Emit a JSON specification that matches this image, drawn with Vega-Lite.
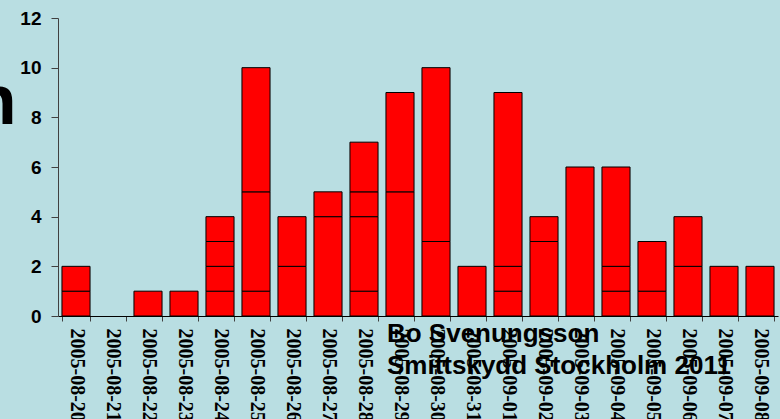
{
  "$schema": "https://vega.github.io/schema/vega-lite/v6.json",
  "autosize": {"type": "none"},
  "width": 720,
  "height": 298,
  "padding": {"left": 58, "top": 18, "right": 2, "bottom": 103},
  "background": "#B9DEE2",
  "config": {"view": {"stroke": null, "fill": "#B9DEE2"}},
  "datasets": {
    "cases": [
      {"date": "2005-08-20", "seg": 1, "n": 1},
      {"date": "2005-08-20", "seg": 2, "n": 1},
      {"date": "2005-08-22", "seg": 1, "n": 1},
      {"date": "2005-08-23", "seg": 1, "n": 1},
      {"date": "2005-08-24", "seg": 1, "n": 1},
      {"date": "2005-08-24", "seg": 2, "n": 1},
      {"date": "2005-08-24", "seg": 3, "n": 1},
      {"date": "2005-08-24", "seg": 4, "n": 1},
      {"date": "2005-08-25", "seg": 1, "n": 1},
      {"date": "2005-08-25", "seg": 2, "n": 4},
      {"date": "2005-08-25", "seg": 3, "n": 5},
      {"date": "2005-08-26", "seg": 1, "n": 2},
      {"date": "2005-08-26", "seg": 2, "n": 2},
      {"date": "2005-08-27", "seg": 1, "n": 4},
      {"date": "2005-08-27", "seg": 2, "n": 1},
      {"date": "2005-08-28", "seg": 1, "n": 1},
      {"date": "2005-08-28", "seg": 2, "n": 3},
      {"date": "2005-08-28", "seg": 3, "n": 1},
      {"date": "2005-08-28", "seg": 4, "n": 2},
      {"date": "2005-08-29", "seg": 1, "n": 5},
      {"date": "2005-08-29", "seg": 2, "n": 4},
      {"date": "2005-08-30", "seg": 1, "n": 3},
      {"date": "2005-08-30", "seg": 2, "n": 7},
      {"date": "2005-08-31", "seg": 1, "n": 2},
      {"date": "2005-09-01", "seg": 1, "n": 1},
      {"date": "2005-09-01", "seg": 2, "n": 1},
      {"date": "2005-09-01", "seg": 3, "n": 7},
      {"date": "2005-09-02", "seg": 1, "n": 3},
      {"date": "2005-09-02", "seg": 2, "n": 1},
      {"date": "2005-09-03", "seg": 1, "n": 6},
      {"date": "2005-09-04", "seg": 1, "n": 1},
      {"date": "2005-09-04", "seg": 2, "n": 1},
      {"date": "2005-09-04", "seg": 3, "n": 4},
      {"date": "2005-09-05", "seg": 1, "n": 1},
      {"date": "2005-09-05", "seg": 2, "n": 2},
      {"date": "2005-09-06", "seg": 1, "n": 2},
      {"date": "2005-09-06", "seg": 2, "n": 2},
      {"date": "2005-09-07", "seg": 1, "n": 2},
      {"date": "2005-09-08", "seg": 1, "n": 2}
    ],
    "notes": [
      {"date": "2005-08-29", "y": -1.03, "label": "Bo Svenungsson"},
      {"date": "2005-08-29", "y": -2.34, "label": "Smittskydd Stockholm 2011"}
    ]
  },
  "layer": [
    {
      "data": {"name": "cases"},
      "mark": {"type": "bar", "fill": "#FF0000", "stroke": "#000000", "strokeWidth": 1},
      "encoding": {
        "x": {
          "field": "date", "type": "ordinal",
          "scale": {
            "domain": ["2005-08-20","2005-08-21","2005-08-22","2005-08-23","2005-08-24","2005-08-25","2005-08-26","2005-08-27","2005-08-28","2005-08-29","2005-08-30","2005-08-31","2005-09-01","2005-09-02","2005-09-03","2005-09-04","2005-09-05","2005-09-06","2005-09-07","2005-09-08"],
            "paddingInner": 0.22, "paddingOuter": 0.11
          },
          "axis": {
            "title": null,
            "labelAngle": 90,
            "labelFont": "Liberation Serif",
            "labelFontWeight": "bold",
            "labelFontSize": 20,
            "labelColor": "#000000",
            "labelPadding": 7,
            "tickSize": 5,
            "tickBand": "extent",
            "tickColor": "#404040",
            "domainColor": "#000000",
            "labelOverlap": false
          }
        },
        "y": {
          "field": "n", "type": "quantitative", "stack": "zero",
          "scale": {"domain": [0, 12], "nice": false},
          "axis": {
            "values": [0, 2, 4, 6, 8, 10, 12],
            "grid": false,
            "title": "n",
            "titleAngle": 0,
            "titleFont": "Liberation Sans",
            "titleFontWeight": "bold",
            "titleFontSize": 71,
            "titleColor": "#000000",
            "titleAlign": "right",
            "titleBaseline": "alphabetic",
            "titleX": -42,
            "titleY": 105,
            "labelFont": "Liberation Sans",
            "labelFontWeight": "bold",
            "labelFontSize": 19,
            "labelColor": "#000000",
            "labelPadding": 10,
            "tickSize": 7,
            "tickColor": "#404040",
            "domainColor": "#404040"
          }
        },
        "detail": {"field": "seg"},
        "order": {"field": "seg", "type": "quantitative"}
      }
    },
    {
      "data": {"name": "notes"},
      "mark": {"type": "text", "align": "left", "baseline": "alphabetic", "font": "Liberation Sans", "fontWeight": "bold", "fontSize": 26, "color": "#000000", "dx": 1, "clip": false},
      "encoding": {
        "x": {"field": "date", "type": "ordinal", "bandPosition": 0},
        "y": {"field": "y", "type": "quantitative"},
        "text": {"field": "label"}
      }
    }
  ]
}
